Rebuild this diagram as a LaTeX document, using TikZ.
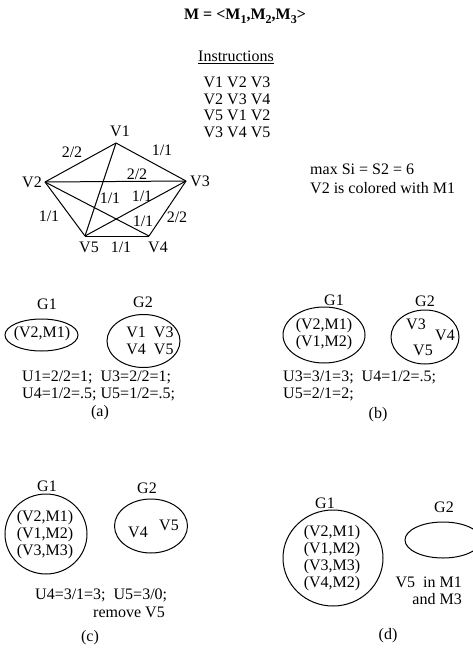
\documentclass[tikz,border=0pt]{standalone}
\usepackage{fontspec}
\setmainfont{Liberation Serif}
\usetikzlibrary{shapes.geometric}
\begin{document}
\begin{tikzpicture}[x=1pt,y=-1pt,
  every node/.style={font=\fontsize{16}{17}\selectfont, inner sep=0pt},
  edgeline/.style={line width=1pt},
  grp/.style={draw, ellipse, line width=1pt, inner sep=0pt},
  lines/.style={align=center, font=\fontsize{16}{17}\selectfont}]
\useasboundingbox (0,0) rectangle (472,650);

% title
\node (title) at (245,16) {\bfseries M = <M\raisebox{-4pt}{\fontsize{12}{12}\selectfont 1},M\raisebox{-4pt}{\fontsize{12}{12}\selectfont 2},M\raisebox{-4pt}{\fontsize{12}{12}\selectfont 3}>};
\node (instr) at (236,57) {\underline{Instructions}};
\node (i1) at (237,82) {V1 V2 V3};
\node (i2) at (237,99) {V2 V3 V4};
\node (i3) at (237,115) {V5 V1 V2};
\node (i4) at (237,132) {V3 V4 V5};

% graph
\coordinate (p1) at (116,143);
\coordinate (p2) at (45,182);
\coordinate (p3) at (186,181);
\coordinate (p5) at (85,236);
\coordinate (p4) at (149,236);
\node (l1) at (120,131) {V1};
\node (l2) at (32,182) {V2};
\node (l3) at (200,181) {V3};
\node (l5) at (89,247) {V5};
\node (l4) at (158,247) {V4};
\draw[edgeline] (p1) -- (p2);
\draw[edgeline] (p1) -- (p3);
\draw[edgeline] (p1) -- (p5);
\draw[edgeline] (p2) -- (p3);
\draw[edgeline] (p2) -- (p5);
\draw[edgeline] (p2) -- (p4);
\draw[edgeline] (p3) -- (p5);
\draw[edgeline] (p3) -- (p4);
\draw[edgeline] (p5) -- (p4);
\node (e12) at (72,152) {2/2};
\node (e13) at (162,150) {1/1};
\node (e23) at (137,174) {2/2};
\node (e15) at (110,198) {1/1};
\node (e35) at (142,196) {1/1};
\node (e25) at (49,216) {1/1};
\node (e24) at (143,221) {1/1};
\node (e34) at (177,217) {2/2};
\node (e54) at (121,247) {1/1};

\node[anchor=west] (maxs) at (310,169) {max Si = S2 = 6};
\node[anchor=west] (col) at (310,188) {V2 is colored with M1};

% (a)
\node (aG1) at (47,304) {G1};
\node[grp, minimum width=73pt, minimum height=32pt] (aE1) at (41.5,335) {};
\node (aT1) at (42,334) {(V2,M1)};
\node (aG2) at (143,302) {G2};
\node[grp, minimum width=73pt, minimum height=53pt] (aE2) at (143.5,341) {};
\node[lines] (aT2) at (150,341) {V1\ \ V3\\V4\ \ V5};
\node[anchor=west, align=left] (aU) at (22,386) {U1=2/2=1;\ \ U3=2/2=1;\\U4=1/2=.5;\ U5=1/2=.5;};
\node (alab) at (100,413) {(a)};

% (b)
\node (bG1) at (334,300) {G1};
\node[grp, minimum width=82pt, minimum height=56pt] (bE1) at (324,335) {};
\node[lines] (bT1) at (324,334) {(V2,M1)\\(V1,M2)};
\node (bG2) at (425,301) {G2};
\node[grp, minimum width=68pt, minimum height=54pt] (bE2) at (425,337) {};
\node (bV3) at (416,324) {V3};
\node (bV4) at (445,335) {V4};
\node (bV5) at (423,350) {V5};
\node[anchor=west, align=left] (bU) at (283,386) {U3=3/1=3;\ \ U4=1/2=.5;\\U5=2/1=2;};
\node (blab) at (378,415) {(b)};

% (c)
\node (cG1) at (47,486) {G1};
\node[grp, minimum width=82pt, minimum height=80pt] (cE1) at (46,534) {};
\node[lines] (cT1) at (45,535) {(V2,M1)\\(V1,M2)\\(V3,M3)};
\node (cG2) at (147,488) {G2};
\node[grp, minimum width=73pt, minimum height=54pt] (cE2) at (151,526) {};
\node (cV4) at (138,532) {V4};
\node (cV5) at (169,525) {V5};
\node[anchor=west] (cU) at (35,595) {U4=3/1=3;\ \ U5=3/0;};
\node (crem) at (129,612) {remove V5};
\node (clab) at (90,638) {(c)};

% (d)
\node (dG1) at (325,503) {G1};
\node[grp, minimum width=100pt, minimum height=96pt] (dE1) at (333,558) {};
\node[lines] (dT1) at (332,558) {(V2,M1)\\(V1,M2)\\(V3,M3)\\(V4,M2)};
\node (dG2) at (444,507) {G2};
\node[grp, minimum width=76pt, minimum height=36pt] (dE2) at (443,540) {};
\node[align=right, anchor=east] (dV5) at (462,591) {V5\ \ in M1\\and M3};
\node (dlab) at (388,636) {(d)};
\end{tikzpicture}
\end{document}
